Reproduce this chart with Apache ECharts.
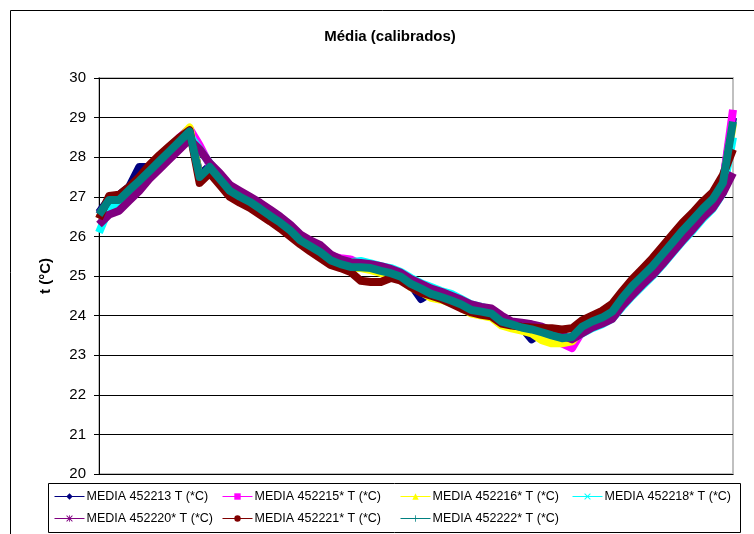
<!DOCTYPE html>
<html>
<head>
<meta charset="utf-8">
<script src="https://cdn.jsdelivr.net/npm/echarts@6/dist/echarts.min.js"></script>
<style>
html,body{margin:0;padding:0;background:#fff;}
#chart{width:754px;height:534px;}
</style>
</head>
<body>
<div id="chart"></div>
<script>
var titleText = 'Média (calibrados)';
var yAxisName = 't (°C)';
var yMin = 20, yMax = 30, yStep = 1;
var seriesNames = ['MEDIA 452213 T (*C)','MEDIA 452215* T (*C)','MEDIA 452216* T (*C)','MEDIA 452218* T (*C)','MEDIA 452220* T (*C)','MEDIA 452221* T (*C)','MEDIA 452222* T (*C)'];
var seriesColors = ['#000080','#FF00FF','#FFFF00','#00FFFF','#800080','#800000','#008080'];

var s452213 = [26.60,26.95,27.05,27.25,27.75,27.75,28.00,28.25,28.48,28.72,
 27.55,27.78,27.48,27.18,27.02,26.88,26.70,26.52,26.35,26.15,
 25.92,25.75,25.62,25.42,25.30,25.25,25.22,25.20,25.12,25.05,
 24.95,24.78,24.42,24.58,24.50,24.40,24.28,24.15,24.10,24.05,
 23.85,23.78,23.70,23.40,23.58,23.50,23.43,23.46,23.72,23.85,
 23.95,24.10,24.45,24.75,25.00,25.25,25.55,25.85,26.15,26.42,
 26.70,26.95,27.38,29.00];
var s452215 = [26.55,26.90,26.95,27.18,27.45,27.72,27.98,28.22,28.50,28.72,
 28.30,27.80,27.55,27.25,27.08,26.95,26.78,26.60,26.42,26.22,
 25.98,25.82,25.68,25.50,25.45,25.42,25.30,25.25,25.18,25.10,
 25.00,24.85,24.72,24.60,24.52,24.42,24.32,24.18,24.12,24.05,
 23.85,23.75,23.68,23.60,23.52,23.40,23.30,23.18,23.60,23.78,
 23.90,24.05,24.40,24.70,24.95,25.20,25.50,25.80,26.10,26.38,
 26.65,26.92,27.35,29.20];
var s452216 = [26.45,26.88,26.90,27.12,27.40,27.65,27.92,28.18,28.45,28.75,
 27.50,27.72,27.42,27.12,26.98,26.85,26.68,26.50,26.32,26.12,
 25.88,25.72,25.58,25.38,25.28,25.20,25.20,25.15,25.08,25.00,
 24.92,24.72,24.60,24.45,24.40,24.32,24.20,24.05,24.00,23.95,
 23.75,23.68,23.62,23.55,23.38,23.30,23.30,23.35,23.65,23.80,
 23.92,24.05,24.40,24.70,24.95,25.22,25.50,25.80,26.10,26.38,
 26.65,26.92,27.30,28.85];
var s452218 = [26.10,26.70,26.80,27.00,27.25,27.52,27.78,28.02,28.28,28.55,
 28.20,27.85,27.55,27.28,27.10,26.98,26.82,26.65,26.48,26.28,
 26.02,25.85,25.72,25.52,25.40,25.35,25.38,25.32,25.25,25.20,
 25.10,24.95,24.82,24.72,24.62,24.55,24.42,24.28,24.22,24.15,
 23.95,23.82,23.78,23.75,23.70,23.62,23.50,23.42,23.55,23.68,
 23.78,23.92,24.22,24.50,24.75,25.00,25.28,25.58,25.88,26.15,
 26.45,26.70,27.10,28.50];
var s452220 = [26.30,26.55,26.65,26.90,27.15,27.45,27.70,27.95,28.20,28.45,
 28.20,27.85,27.60,27.30,27.15,27.00,26.85,26.68,26.50,26.30,
 26.05,25.90,25.78,25.55,25.42,25.35,25.33,25.30,25.25,25.18,
 25.08,24.92,24.80,24.68,24.60,24.50,24.40,24.28,24.22,24.18,
 24.00,23.85,23.82,23.78,23.72,23.62,23.50,23.40,23.55,23.70,
 23.80,23.92,24.25,24.52,24.78,25.02,25.30,25.60,25.90,26.18,
 26.48,26.72,27.10,27.60];
var s452221 = [26.45,27.02,27.05,27.25,27.50,27.80,28.05,28.28,28.50,28.68,
 27.35,27.60,27.30,27.00,26.85,26.72,26.55,26.38,26.20,26.00,
 25.80,25.62,25.45,25.28,25.20,25.10,24.88,24.85,24.85,24.95,
 24.88,24.72,24.58,24.50,24.42,24.30,24.18,24.08,24.02,23.98,
 23.80,23.75,23.72,23.70,23.68,23.68,23.65,23.68,23.88,24.00,
 24.12,24.30,24.62,24.92,25.18,25.45,25.75,26.05,26.35,26.60,
 26.88,27.12,27.55,28.20];
var s452222 = [26.55,26.92,26.92,27.17,27.40,27.65,27.90,28.15,28.40,28.65,
 27.50,27.75,27.45,27.15,27.00,26.87,26.70,26.52,26.35,26.15,
 25.90,25.75,25.60,25.40,25.30,25.23,25.22,25.20,25.13,25.07,
 24.98,24.80,24.68,24.55,24.47,24.38,24.28,24.14,24.10,24.05,
 23.85,23.78,23.70,23.65,23.58,23.50,23.43,23.46,23.72,23.85,
 23.95,24.10,24.45,24.75,25.00,25.25,25.55,25.85,26.15,26.42,
 26.70,26.95,27.35,28.90];

var seriesData = [s452213,s452215,s452216,s452218,s452220,s452221,s452222];
var categories = [];
for (var i = 0; i < s452222.length; i++) categories.push(String(i + 1));

var symX = 'path://M0,1 L1,0 L5,4 L9,0 L10,1 L6,5 L10,9 L9,10 L5,6 L1,10 L0,9 L4,5 Z';
var symAst = 'path://M4.4,0 H5.6 V10 H4.4 Z M0,0.9 L0.9,0 L10,9.1 L9.1,10 Z M9.1,0 L10,0.9 L0.9,10 L0,9.1 Z';
var symPlus = 'path://M4.4,0 H5.6 V4.4 H10 V5.6 H5.6 V10 H4.4 V5.6 H0 V4.4 H4.4 Z';
var symbols = ['diamond','rect','triangle',symX,symAst,'circle',symPlus];
var symSizes = [7,7,7,8,8,7,8];

var legendLefts = [54,222,400,572,54,222,400];
var legendTops = [490,490,490,490,512,512,512];

var font = 'Arial, "Liberation Sans", sans-serif';

var series = [];
var legends = [];
for (var k = 0; k < seriesNames.length; k++) {
  series.push({
    name: seriesNames[k],
    type: 'line',
    data: seriesData[k],
    symbol: symbols[k],
    symbolSize: symSizes[k],
    showSymbol: false,
    lineStyle: {color: seriesColors[k], width: 8, join: 'round'},
    itemStyle: {color: seriesColors[k]},
    emphasis: {disabled: true},
    animation: false
  });
  legends.push({
    data: [seriesNames[k]],
    left: legendLefts[k],
    top: legendTops[k],
    itemWidth: 30,
    itemHeight: 8,
    itemGap: 0,
    padding: 0,
    lineStyle: {width: 1},
    textStyle: {fontSize: 12.5, color: '#000', fontFamily: font, padding: [0,0,0,-3]},
    selectedMode: false
  });
}

var chart = echarts.init(document.getElementById('chart'), null, {renderer: 'canvas'});
chart.setOption({
  backgroundColor: '#fff',
  animation: false,
  legend: legends,
  grid: {left: 99, right: 21, top: 78, bottom: 60, show: true, borderColor: '#c0c0c0', borderWidth: 2, backgroundColor: 'transparent'},
  xAxis: {
    type: 'category',
    data: categories,
    boundaryGap: false,
    axisLine: {lineStyle: {color: '#000', width: 1}},
    axisTick: {show: false},
    axisLabel: {show: false},
    splitLine: {show: false}
  },
  yAxis: {
    type: 'value',
    min: yMin, max: yMax, interval: yStep,
    name: yAxisName,
    nameLocation: 'middle',
    nameGap: 46,
    nameTextStyle: {fontSize: 15, fontWeight: 'bold', color: '#000', fontFamily: font},
    axisLine: {show: true, lineStyle: {color: '#000', width: 1}},
    axisTick: {show: true, inside: false, length: 5, lineStyle: {color: '#000'}},
    axisLabel: {fontSize: 15, color: '#000', margin: 13, fontFamily: font},
    splitLine: {show: true, lineStyle: {color: '#000', width: 1}}
  },
  graphic: [
    {type: 'rect', shape: {x: 10.5, y: 10.5, width: 800, height: 600}, style: {fill: 'none', stroke: '#000', lineWidth: 1}, silent: true, z: -1},
    {type: 'rect', shape: {x: 48.5, y: 483.5, width: 692, height: 49}, style: {fill: 'none', stroke: '#000', lineWidth: 1}, silent: true},
    {type: 'text', x: 390, y: 37, style: {text: titleText, font: 'bold 15px ' + font, fill: '#000', textAlign: 'center', textVerticalAlign: 'middle'}, silent: true}
  ],
  series: series
});
</script>
</body>
</html>
